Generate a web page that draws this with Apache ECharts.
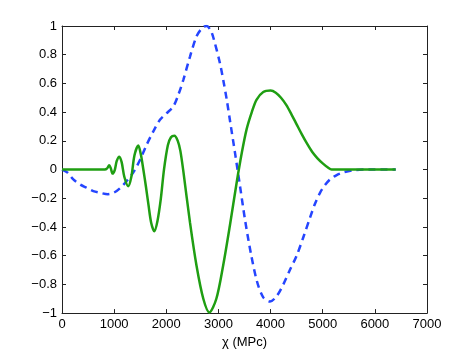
<!DOCTYPE html>
<html>
<head>
<meta charset="utf-8">
<script src="https://cdn.jsdelivr.net/npm/echarts@6/dist/echarts.min.js"></script>
<style>
  html, body { margin: 0; padding: 0; background: #fff; }
  #chart { width: 471px; height: 354px; }
</style>
</head>
<body>
<div id="chart"></div>
<script>
// x ticks and y ticks
var xTicks = [0, 1000, 2000, 3000, 4000, 5000, 6000, 7000];
var yTicks = [-1, -0.8, -0.6, -0.4, -0.2, 0, 0.2, 0.4, 0.6, 0.8, 1];

// dashed blue curve, [chi, value]
var blueCurve = [
  [0, 0], [100, -0.02], [217, -0.069], [350, -0.105], [473, -0.127],
  [600, -0.15], [729, -0.162], [880, -0.172], [1000, -0.16], [1112, -0.13],
  [1240, -0.08], [1368, -0.02], [1500, 0.07], [1620, 0.17], [1752, 0.266],
  [1879, 0.347], [2000, 0.39], [2136, 0.44], [2230, 0.52], [2327, 0.625],
  [2455, 0.787], [2583, 0.93], [2700, 0.99], [2774, 1.0], [2850, 0.97],
  [2902, 0.92], [3030, 0.74], [3094, 0.62], [3158, 0.49], [3222, 0.34],
  [3318, 0.116], [3414, -0.116], [3510, -0.35], [3620, -0.58], [3740, -0.78],
  [3860, -0.89], [3990, -0.92], [4120, -0.88], [4245, -0.8], [4370, -0.7],
  [4500, -0.6], [4630, -0.47], [4756, -0.336], [4850, -0.24], [4948, -0.162],
  [5040, -0.11], [5140, -0.069], [5260, -0.04], [5395, -0.02], [5587, -0.005],
  [5800, 0], [6400, 0]
];

// solid green curve, [chi, value]
var greenCurve = [
  [0, 0], [820, 0], [865, 0.008], [905, 0.03], [935, 0.01], [970, -0.028],
  [1010, -0.005], [1050, 0.06], [1100, 0.09], [1145, 0.05], [1195, -0.05],
  [1270, -0.116], [1330, -0.05], [1390, 0.1], [1463, 0.167], [1510, 0.11],
  [1560, 0], [1610, -0.12], [1660, -0.25], [1710, -0.37], [1770, -0.43],
  [1830, -0.36], [1893, -0.21], [1956, 0], [2030, 0.17], [2090, 0.225],
  [2155, 0.236], [2220, 0.2], [2270, 0.13], [2330, -0.02], [2455, -0.37],
  [2580, -0.67], [2710, -0.9], [2825, -0.995], [2960, -0.9], [3090, -0.67],
  [3220, -0.39], [3350, -0.09], [3450, 0.12], [3540, 0.28], [3640, 0.4],
  [3730, 0.486], [3860, 0.54], [4000, 0.55], [4100, 0.535], [4200, 0.5],
  [4300, 0.45], [4400, 0.385], [4500, 0.315], [4600, 0.245], [4700, 0.18],
  [4800, 0.122], [4900, 0.078], [5000, 0.043], [5100, 0.014], [5170, 0],
  [5300, 0], [6400, 0]
];

var font = "'Liberation Sans', Arial, Helvetica, sans-serif";
var axisColor = "#222";

function minus(v) {
  return String(v).replace("-", "\u2212");
}

var baseX = {
  type: "value",
  min: xTicks[0],
  max: xTicks[xTicks.length - 1],
  interval: 1000,
  axisLine: { onZero: false, lineStyle: { color: axisColor, width: 1 } },
  axisTick: { inside: true, length: 4, lineStyle: { color: axisColor } },
  splitLine: { show: false }
};
var baseY = {
  type: "value",
  min: yTicks[0],
  max: yTicks[yTicks.length - 1],
  interval: 0.2,
  axisLine: { onZero: false, lineStyle: { color: axisColor, width: 1 } },
  axisTick: { inside: true, length: 4, lineStyle: { color: axisColor } },
  splitLine: { show: false }
};

var option = {
  animation: false,
  backgroundColor: "#fff",
  grid: { left: 62, right: 44, top: 26, bottom: 40 },
  xAxis: [
    Object.assign({}, baseX, {
      position: "bottom",
      name: "\u03c7 (MPc)",
      nameLocation: "middle",
      nameGap: 21,
      nameTextStyle: { color: "#000", fontSize: 13, fontFamily: font },
      axisLabel: {
        color: "#000", fontSize: 13, fontFamily: font, margin: 5,
        formatter: function (v) { return String(v); }
      }
    }),
    Object.assign({}, baseX, {
      position: "top",
      axisLabel: { show: false }
    })
  ],
  yAxis: [
    Object.assign({}, baseY, {
      position: "left",
      axisLabel: {
        color: "#000", fontSize: 13, fontFamily: font, margin: 5,
        formatter: function (v) { return minus(Math.round(v * 10) / 10); }
      }
    }),
    Object.assign({}, baseY, {
      position: "right",
      axisLabel: { show: false }
    })
  ],
  series: [
    {
      type: "line",
      data: blueCurve,
      smooth: 0.3,
      symbol: "none",
      lineStyle: { color: "#2545ff", width: 2.5, type: [7, 5] }
    },
    {
      type: "line",
      data: greenCurve,
      smooth: 0.3,
      symbol: "none",
      lineStyle: { color: "#1f9e12", width: 2.5 }
    }
  ]
};

var chartObj = echarts.init(document.getElementById("chart"));
chartObj.setOption(option);
</script>
</body>
</html>
